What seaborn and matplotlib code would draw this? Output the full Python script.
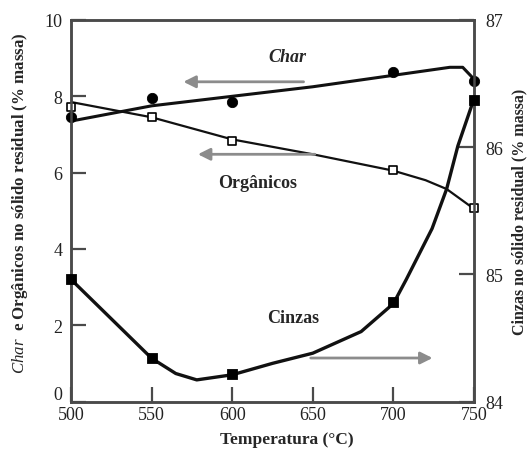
import matplotlib
matplotlib.use("Agg")
import matplotlib.pyplot as plt
import matplotlib.transforms as mtransforms
import seaborn as sns
import numpy as np
import pandas as pd

# ---- data ----
temps_pts = [500, 550, 600, 700, 750]
char_pts = [7.45, 7.95, 7.85, 8.65, 8.40]
org_pts = [7.72, 7.45, 6.83, 6.08, 5.07]
cinzas_pts = [84.96, 84.34, 84.22, 84.78, 86.37]

char_curve_t = [500, 550, 600, 650, 700, 735, 743, 750]
char_curve_v = [7.35, 7.75, 8.00, 8.25, 8.55, 8.76, 8.76, 8.45]

org_curve_t = [500, 550, 600, 650, 700, 720, 733, 750]
org_curve_v = [7.85, 7.45, 6.87, 6.48, 6.05, 5.80, 5.57, 5.05]

cinzas_curve_t = [500, 525, 550, 565, 578, 600, 625, 650, 680, 690, 700, 708, 724, 733, 740, 750]
cinzas_curve_v = [84.96, 84.65, 84.34, 84.22, 84.17, 84.21, 84.30, 84.38, 84.55, 84.66,
                  84.77, 84.96, 85.36, 85.67, 86.01, 86.38]

left_ticks = [0, 2, 4, 6, 8, 10]
right_ticks = [84, 85, 86, 87]
x_ticks = [500, 550, 600, 650, 700, 750]

sns.set_theme(style="ticks")
plt.rcParams["font.family"] = ["Liberation Serif", "DejaVu Serif"]
plt.rcParams["mathtext.fontset"] = "custom"
plt.rcParams["mathtext.it"] = "Liberation Serif:italic"
plt.rcParams["mathtext.rm"] = "Liberation Serif"

fig = plt.figure(figsize=(5.31, 4.52), dpi=100)
ax = fig.add_axes([71 / 531, 1 - 402.5 / 452, 403 / 531, 381.5 / 452])
ax2 = ax.twinx()

spine_c = "#4a4a4a"
line_c = "#111111"

sns.lineplot(x=char_curve_t, y=char_curve_v, ax=ax, color=line_c, lw=2.2, sort=False)
sns.lineplot(x=org_curve_t, y=org_curve_v, ax=ax, color=line_c, lw=1.6, sort=False)
sns.scatterplot(x=temps_pts, y=char_pts, ax=ax, color="black", marker="o", s=55,
                edgecolor="black", zorder=5, clip_on=False)
sns.scatterplot(x=temps_pts, y=org_pts, ax=ax, facecolor="white", marker="s", s=40,
                edgecolor="black", linewidth=1.2, zorder=5, clip_on=False)

sns.lineplot(x=cinzas_curve_t, y=cinzas_curve_v, ax=ax2, color=line_c, lw=2.4, sort=False)
sns.scatterplot(x=temps_pts, y=cinzas_pts, ax=ax2, color="black", marker="s", s=55,
                edgecolor="black", zorder=5, clip_on=False)

ax.set_xlim(500, 750)
ax.set_ylim(0, 10)
ax2.set_ylim(84, 87)
ax.set_xticks(x_ticks)
ax.set_yticks(left_ticks)
ax2.set_yticks(right_ticks)

for a in (ax, ax2):
    for s in a.spines.values():
        s.set_visible(True)
        s.set_color(spine_c)
        s.set_linewidth(1.8)

ax.tick_params(axis="both", direction="in", length=11, width=1.6, color=spine_c,
               labelsize=13, labelcolor="#222222")
ax.tick_params(axis="x", pad=3)
ax.tick_params(axis="y", pad=6)
ax2.tick_params(axis="y", direction="in", length=11, width=1.6, color=spine_c,
                labelsize=13, labelcolor="#222222", pad=8)

# the "0" label sits slightly above the x-axis in the reference
zero_lbl = ax.get_yticklabels()[0]
zero_lbl.set_transform(zero_lbl.get_transform() +
                       mtransforms.ScaledTranslation(0, 9 / 100, fig.dpi_scale_trans))

ax.set_xlabel("Temperatura (°C)", fontsize=12.5, fontweight="bold")
ax.xaxis.set_label_coords(0.535, -0.0786)
ax.set_ylabel(r"$\mathit{Char}$  e Orgânicos no sólido residual (% massa)", fontsize=12.2,
              fontweight="bold")
ax.yaxis.set_label_coords(-0.102, 0.523)
ax2.set_ylabel("Cinzas no sólido residual (% massa)", fontsize=11.5, fontweight="bold",
               rotation=90)
ax2.yaxis.set_label_coords(1.094, 0.5)

arrow_c = "#8c8c8c"
ap = dict(arrowstyle="-|>", color=arrow_c, lw=2.0, mutation_scale=18)
ax.annotate("", xy=(568, 8.38), xytext=(646, 8.38), arrowprops=ap)
ax.annotate("", xy=(577, 6.48), xytext=(653, 6.48), arrowprops=ap)
ax.annotate("", xy=(726, 1.14), xytext=(647, 1.14), arrowprops=ap)

ax.text(634, 9.05, "Char", fontsize=13, fontstyle="italic", fontweight="bold",
        ha="center", va="center")
ax.text(616, 5.75, "Orgânicos", fontsize=13, fontweight="bold", ha="center", va="center")
ax.text(638, 2.2, "Cinzas", fontsize=13, fontweight="bold", ha="center", va="center")

fig.savefig("out.png", dpi=100)
